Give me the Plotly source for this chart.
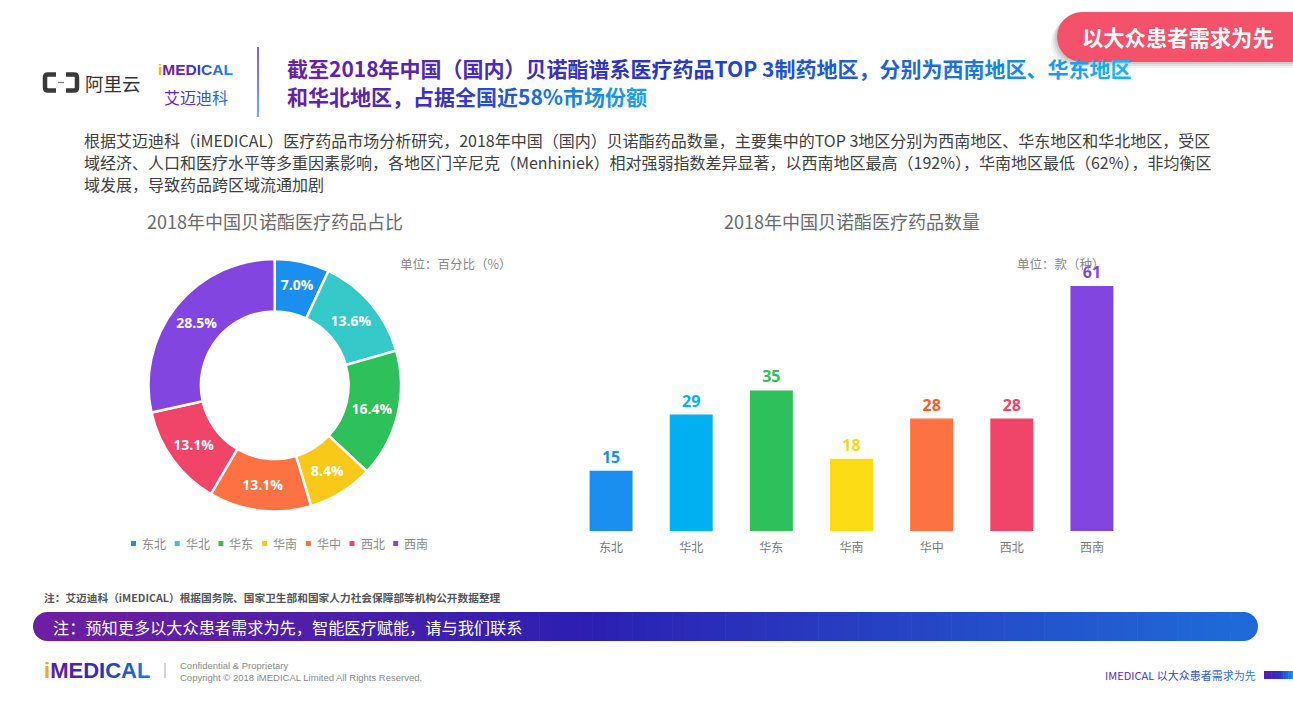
import plotly.graph_objects as go

W, H = 1293, 706


def X(p):
    return p / W


def Y(p):
    return 1 - p / H


# ---------------- data ----------------
regions = ["东北", "华北", "华东", "华南", "华中", "西北", "西南"]
share_pct = [7.0, 13.6, 16.4, 8.4, 13.1, 13.1, 28.5]
drug_counts = [15, 29, 35, 18, 28, 28, 61]
pie_colors = ["#1a8ff0", "#35c9c9", "#2ec05a", "#f9c91a", "#fd7243", "#f04468", "#8345e0"]
bar_colors = ["#1a8ff0", "#00b0f0", "#2ec05a", "#fbdc15", "#fd7243", "#f04468", "#8345e0"]
bar_label_colors = ["#1a8ff0", "#00b0f0", "#2ec05a", "#f7d816", "#fd5a2a", "#f04468", "#8345e0"]

title_line1 = "截至2018年中国（国内）贝诺酯谱系医疗药品TOP 3制药地区，分别为西南地区、华东地区"
title_line2 = "和华北地区，占据全国近58%市场份额"
para_lines = [
    "根据艾迈迪科（iMEDICAL）医疗药品市场分析研究，2018年中国（国内）贝诺酯药品数量，主要集中的TOP 3地区分别为西南地区、华东地区和华北地区，受区",
    "域经济、人口和医疗水平等多重因素影响，各地区门辛尼克（Menhiniek）相对强弱指数差异显著，以西南地区最高（192%），华南地区最低（62%），非均衡区",
    "域发展，导致药品跨区域流通加剧",
]
pie_title = "2018年中国贝诺酯医疗药品占比"
bar_title = "2018年中国贝诺酯医疗药品数量"
pie_unit = "单位：百分比（%）"
bar_unit = "单位：款（种）"
note_text = "注：艾迈迪科（iMEDICAL）根据国务院、国家卫生部和国家人力社会保障部等机构公开数据整理"
banner_text = "注：预知更多以大众患者需求为先，智能医疗赋能，请与我们联系"
tab_text = "以大众患者需求为先"

CJK = "Noto Sans CJK SC, Noto Sans, sans-serif"
LAT = "Liberation Sans, Arial, sans-serif"


def hex2rgb(h):
    h = h.lstrip("#")
    return tuple(int(h[i:i + 2], 16) for i in (0, 2, 4))


def grad(stops, t):
    for i in range(len(stops) - 1):
        t0, c0 = stops[i]
        t1, c1 = stops[i + 1]
        if t <= t1 or i == len(stops) - 2:
            f = 0 if t1 == t0 else max(0, min(1, (t - t0) / (t1 - t0)))
            a, b = hex2rgb(c0), hex2rgb(c1)
            return "#%02x%02x%02x" % tuple(round(a[k] + (b[k] - a[k]) * f) for k in range(3))


def grad_text(text, stops):
    n = len(text)
    out = []
    for i, ch in enumerate(text):
        c = grad(stops, i / max(1, n - 1))
        out.append('<span style="color:%s">%s</span>' % (c, ch))
    return "".join(out)


fig = go.Figure()

# ---------------- donut ----------------
fig.add_trace(go.Pie(
    labels=regions, values=share_pct, sort=False, direction="clockwise", rotation=0,
    hole=0.585,
    marker=dict(colors=pie_colors, line=dict(color="white", width=2.5)),
    texttemplate="%{value:.1f}%", textposition="inside", insidetextorientation="horizontal",
    textfont=dict(color="white", size=14, family="Open Sans, " + CJK, weight="bold"),
    domain=dict(x=[X(148.5), X(401)], y=[Y(511.5), Y(259)]),
    showlegend=False, hoverinfo="label+value",
))

# ---------------- bars ----------------
fig.add_trace(go.Bar(
    x=regions, y=drug_counts, marker=dict(color=bar_colors, line=dict(width=0)),
    text=drug_counts, texttemplate="%{y}", textposition="outside",
    textfont=dict(color=bar_label_colors, size=16, family="Open Sans, " + CJK, weight="bold"),
    cliponaxis=False, showlegend=False, xaxis="x", yaxis="y",
))

shapes = []
ann = []

# red tab (top right) with soft shadow
for off, alpha in [(6, 0.05), (4, 0.07), (2, 0.09)]:
    shapes.append(dict(type="rect", xref="paper", yref="paper", x0=X(1082 - off), x1=X(1293),
                       y0=Y(62 + off), y1=Y(12 + off), fillcolor="rgba(0,0,0,%s)" % alpha, line_width=0, layer="below"))
    shapes.append(dict(type="circle", xref="paper", yref="paper", x0=X(1057 - off), x1=X(1107 - off),
                       y0=Y(62 + off), y1=Y(12 + off), fillcolor="rgba(0,0,0,%s)" % alpha, line_width=0, layer="below"))
shapes.append(dict(type="rect", xref="paper", yref="paper", x0=X(1082), x1=X(1293), y0=Y(62), y1=Y(12),
                   fillcolor="#f4516a", line_width=0))
shapes.append(dict(type="circle", xref="paper", yref="paper", x0=X(1057), x1=X(1107), y0=Y(62), y1=Y(12),
                   fillcolor="#f4516a", line_width=0))
ann.append(dict(text="<b>%s</b>" % tab_text, x=X(1177.5), y=Y(37), xref="paper", yref="paper",
                xanchor="center", yanchor="middle", showarrow=False,
                font=dict(family=CJK, size=21.3, color="white")))

# Aliyun logo icon
icon_c = "#3a3a3a"
shapes.append(dict(type="path", xref="paper", yref="paper",
                   path="M %f,%f L %f,%f Q %f,%f %f,%f L %f,%f Q %f,%f %f,%f L %f,%f" % (
                       X(56), Y(74.5), X(48), Y(74.5), X(45), Y(74.5), X(45), Y(77.5), X(45), Y(87.5),
                       X(45), Y(90.5), X(48), Y(90.5), X(56), Y(90.5)),
                   line=dict(color=icon_c, width=4.5)))
shapes.append(dict(type="path", xref="paper", yref="paper",
                   path="M %f,%f L %f,%f Q %f,%f %f,%f L %f,%f Q %f,%f %f,%f L %f,%f" % (
                       X(66), Y(74.5), X(74), Y(74.5), X(77), Y(74.5), X(77), Y(77.5), X(77), Y(87.5),
                       X(77), Y(90.5), X(74), Y(90.5), X(66), Y(90.5)),
                   line=dict(color=icon_c, width=4.5)))
shapes.append(dict(type="line", xref="paper", yref="paper", x0=X(58), x1=X(64), y0=Y(82.5), y1=Y(82.5),
                   line=dict(color="#777", width=1.2)))
ann.append(dict(text="阿里云", x=X(83), y=Y(83), xref="paper", yref="paper", xanchor="left", yanchor="middle",
                showarrow=False, font=dict(family=CJK, size=18.5, color="#333333")))

# iMEDICAL header logo
ann.append(dict(text='<b><span style="color:#f5b021">i</span>' + grad_text("MEDICAL", [(0, "#6a1fb0"), (0.5, "#3a3ad0"), (1, "#1a8ae8")]) + "</b>",
                x=X(195), y=Y(70), xref="paper", yref="paper", xanchor="center", yanchor="middle",
                showarrow=False, font=dict(family=LAT, size=15.5)))
ann.append(dict(text=grad_text("艾迈迪科", [(0, "#6a1fb0"), (1, "#2a6ae0")]),
                x=X(195.5), y=Y(96.5), xref="paper", yref="paper", xanchor="center", yanchor="middle",
                showarrow=False, font=dict(family=CJK, size=16)))

# vertical divider
nseg = 14
for i in range(nseg):
    y0 = 47 + (117 - 47) * i / nseg
    y1 = 47 + (117 - 47) * (i + 1) / nseg
    shapes.append(dict(type="line", xref="paper", yref="paper", x0=X(258), x1=X(258), y0=Y(y0), y1=Y(y1),
                       line=dict(color=grad([(0, "#8a5ad0"), (1, "#6aaaf0")], i / (nseg - 1)), width=2)))

# headline (gradient text)
ann.append(dict(text="<b>" + grad_text(title_line1, [(0, "#6a1fa8"), (0.45, "#2a36c4"), (0.8, "#1a6cdc"), (1, "#1ab4f2")]) + "</b>",
                x=X(285), y=Y(68), xref="paper", yref="paper", xanchor="left", yanchor="middle",
                showarrow=False, font=dict(family=CJK, size=21)))
ann.append(dict(text="<b>" + grad_text(title_line2, [(0, "#6a1fa8"), (0.4, "#3a30c0"), (0.7, "#1a6cdc"), (1, "#1a9ee8")]) + "</b>",
                x=X(285), y=Y(96), xref="paper", yref="paper", xanchor="left", yanchor="middle",
                showarrow=False, font=dict(family=CJK, size=21)))

# paragraph
for i, line in enumerate(para_lines):
    ann.append(dict(text=line, x=X(82), y=Y(140 + 22 * i), xref="paper", yref="paper", xanchor="left",
                    yanchor="middle", showarrow=False, font=dict(family=CJK, size=16, color="#404040")))

# chart titles and units
ann.append(dict(text=pie_title, x=X(275), y=Y(221), xref="paper", yref="paper", xanchor="center", yanchor="middle",
                showarrow=False, font=dict(family=CJK, size=18, color="#6a6a6a")))
ann.append(dict(text=bar_title, x=X(852), y=Y(221), xref="paper", yref="paper", xanchor="center", yanchor="middle",
                showarrow=False, font=dict(family=CJK, size=18, color="#6a6a6a")))
ann.append(dict(text=pie_unit, x=X(398), y=Y(263), xref="paper", yref="paper", xanchor="left", yanchor="middle",
                showarrow=False, font=dict(family=CJK, size=12.5, color="#8a8a8a")))
ann.append(dict(text=bar_unit, x=X(1015), y=Y(263), xref="paper", yref="paper", xanchor="left", yanchor="middle",
                showarrow=False, font=dict(family=CJK, size=12.5, color="#8a8a8a")))

# pie legend (manual, from data arrays)
for i, (name, col) in enumerate(zip(regions, pie_colors)):
    x0 = 131 + 43.7 * i
    shapes.append(dict(type="rect", xref="paper", yref="paper", x0=X(x0), x1=X(x0 + 5), y0=Y(546), y1=Y(541),
                       fillcolor=col, line_width=0))
    ann.append(dict(text=name, x=X(x0 + 9), y=Y(543.5), xref="paper", yref="paper", xanchor="left",
                    yanchor="middle", showarrow=False, font=dict(family=CJK, size=12, color="#8a8a8a")))

# source note
ann.append(dict(text="<b>%s</b>" % note_text, x=X(42), y=Y(597), xref="paper", yref="paper", xanchor="left",
                yanchor="middle", showarrow=False, font=dict(family=CJK, size=10.7, color="#555555")))

# gradient banner
b_left, b_right, b_top, b_bot = 33, 1258, 612, 641
r = (b_bot - b_top) / 2
stops_banner = [(0, "#6e1ea2"), (0.45, "#2c1fb2"), (1, "#1f6ad8")]
shapes.append(dict(type="circle", xref="paper", yref="paper", x0=X(b_left), x1=X(b_left + 2 * r), y0=Y(b_bot), y1=Y(b_top),
                   fillcolor=grad(stops_banner, 0), line_width=0))
shapes.append(dict(type="circle", xref="paper", yref="paper", x0=X(b_right - 2 * r), x1=X(b_right), y0=Y(b_bot), y1=Y(b_top),
                   fillcolor=grad(stops_banner, 1), line_width=0))
nb = 90
xs, xe = b_left + r, b_right - r
for i in range(nb):
    a = xs + (xe - xs) * i / nb
    b = xs + (xe - xs) * (i + 1) / nb + 0.6
    shapes.append(dict(type="rect", xref="paper", yref="paper", x0=X(a), x1=X(b), y0=Y(b_bot), y1=Y(b_top),
                       fillcolor=grad(stops_banner, i / (nb - 1)), line_width=0))
ann.append(dict(text=banner_text, x=X(51), y=Y(626.5), xref="paper", yref="paper", xanchor="left", yanchor="middle",
                showarrow=False, font=dict(family=CJK, size=16.2, color="white")))

# footer
ann.append(dict(text='<b><span style="color:#f5a623">i</span>' + grad_text("MEDICAL", [(0, "#5a1fa8"), (0.5, "#2a2ec4"), (1, "#1a72dc")]) + "</b>",
                x=X(42), y=Y(670), xref="paper", yref="paper", xanchor="left", yanchor="middle",
                showarrow=False, font=dict(family=LAT, size=22)))
shapes.append(dict(type="line", xref="paper", yref="paper", x0=X(165), x1=X(165), y0=Y(663), y1=Y(678),
                   line=dict(color="#aaaaaa", width=1)))
ann.append(dict(text="Confidential & Proprietary", x=X(178), y=Y(665), xref="paper", yref="paper", xanchor="left",
                yanchor="middle", showarrow=False, font=dict(family=LAT, size=9.5, color="#8a8a8a")))
ann.append(dict(text="Copyright © 2018 iMEDICAL Limited All Rights Reserved.", x=X(178), y=Y(677), xref="paper",
                yref="paper", xanchor="left", yanchor="middle", showarrow=False,
                font=dict(family=LAT, size=9.5, color="#8a8a8a")))
ann.append(dict(text=grad_text("IMEDICAL 以大众患者需求为先", [(0, "#6a1fb0"), (0.5, "#3a3ad0"), (1, "#2a7ae0")]),
                x=X(1258), y=Y(675), xref="paper", yref="paper", xanchor="right", yanchor="middle",
                showarrow=False, font=dict(family=CJK, size=11)))
for i in range(12):
    a = 1264 + 29 * i / 12
    b = 1264 + 29 * (i + 1) / 12 + 0.5
    shapes.append(dict(type="rect", xref="paper", yref="paper", x0=X(a), x1=X(b), y0=Y(679), y1=Y(671),
                       fillcolor=grad([(0, "#5a1aa8"), (0.5, "#2a2ec4"), (1, "#1a8ae8")], i / 11), line_width=0))

fig.update_layout(
    width=W, height=H, autosize=False,
    margin=dict(l=0, r=0, t=0, b=0, pad=0),
    paper_bgcolor="white", plot_bgcolor="rgba(0,0,0,0)",
    bargap=0.464,
    xaxis=dict(domain=[X(571), X(1132)], type="category", showgrid=False, zeroline=False, showline=False,
               ticks="", ticklabelstandoff=8,
               tickfont=dict(family=CJK, size=12, color="#7a7a7a"), fixedrange=True),
    yaxis=dict(domain=[Y(531), Y(286)], range=[0, 61], visible=False, fixedrange=True),
    shapes=shapes, annotations=ann,
    font=dict(family=CJK),
)

fig.write_html("out.html", config={"displayModeBar": False},
               post_script="document.body.style.margin='0';")
